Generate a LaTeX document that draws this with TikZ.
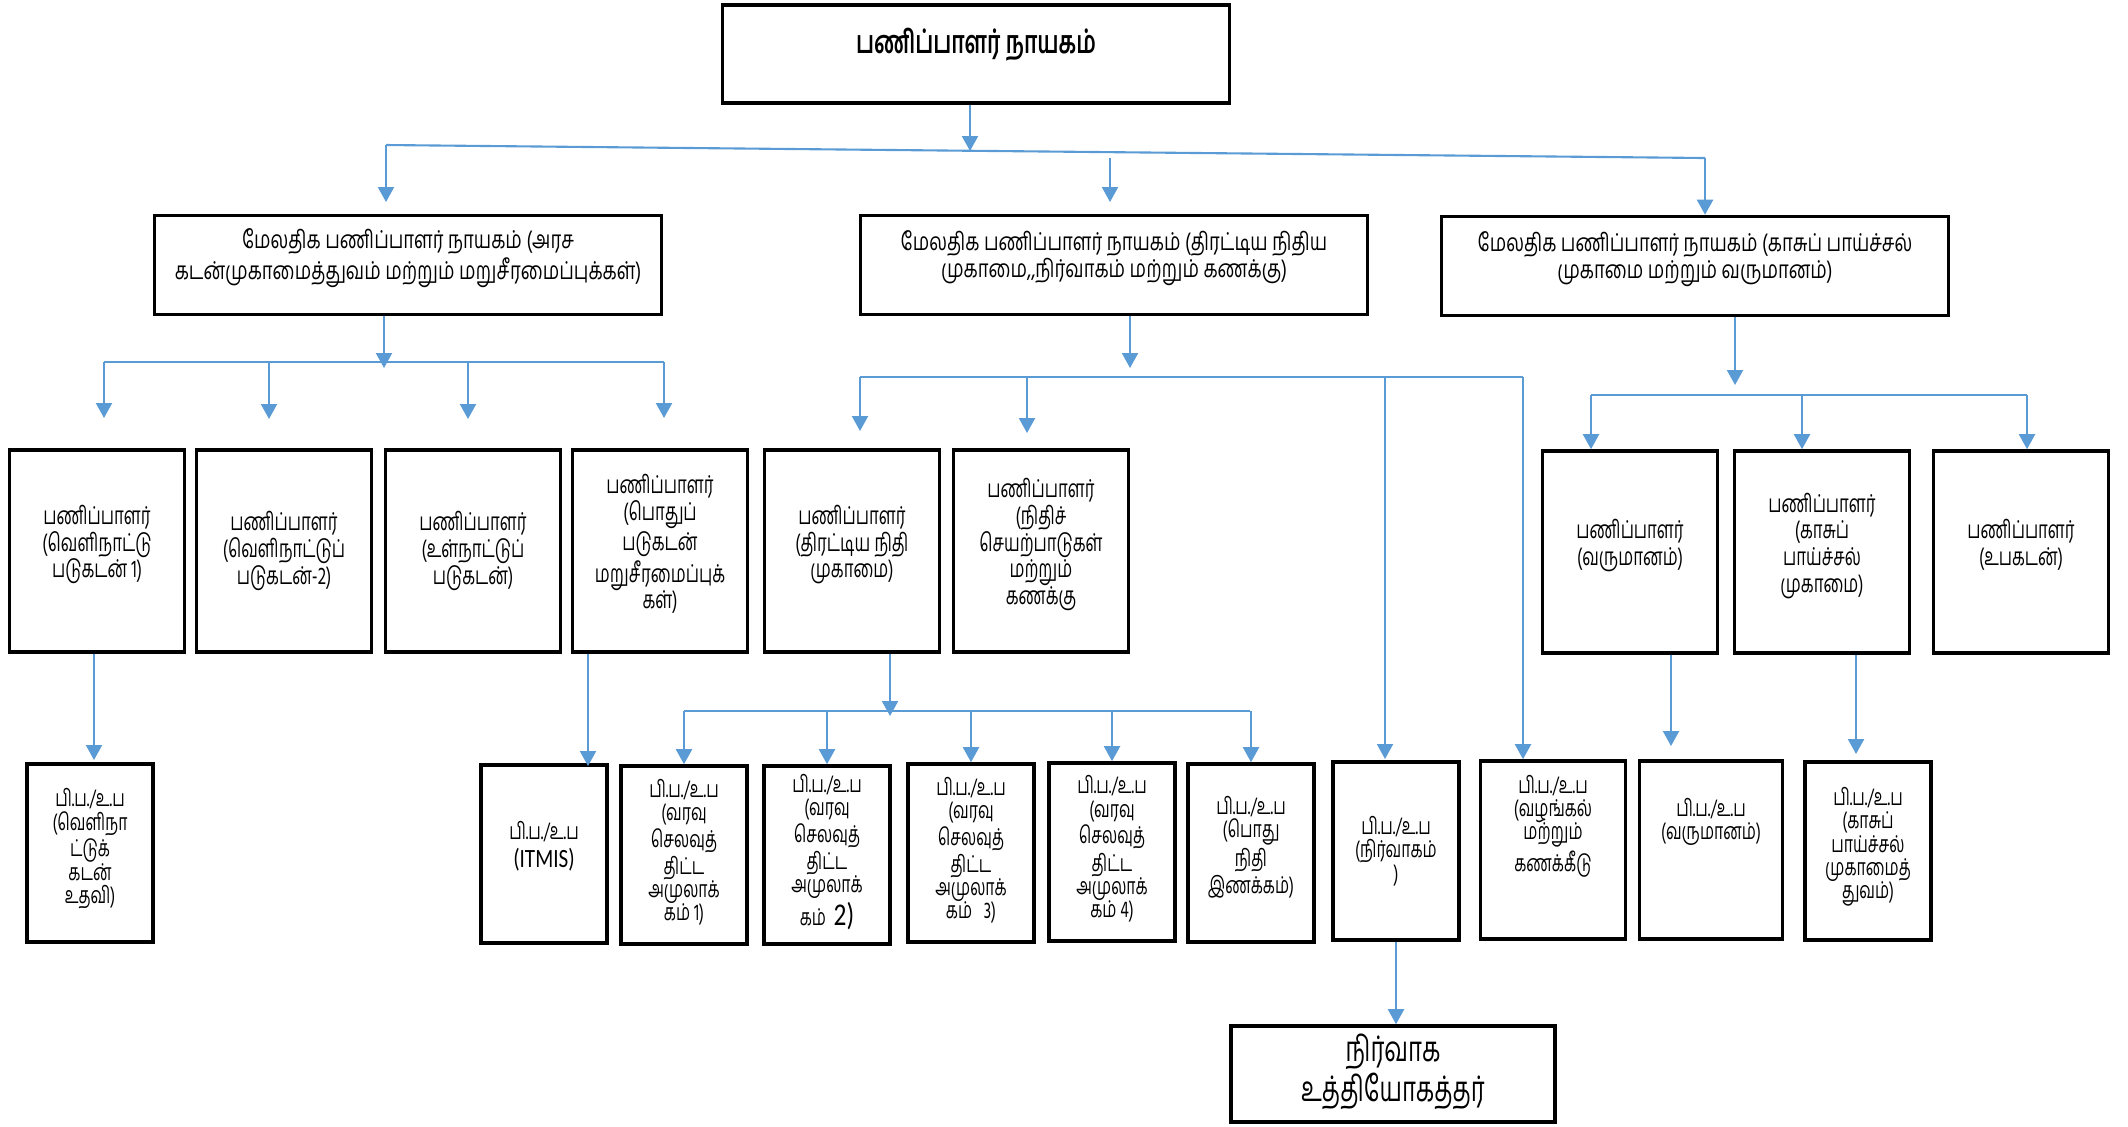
\documentclass[tikz,border=0pt]{standalone}
\usepackage{fontspec}
\newfontfamily\tamil[Script=Tamil,FakeStretch=0.68]{Hind Madurai}
\newfontfamily\tamilwide[Script=Tamil,FakeStretch=0.75]{Hind Madurai}
\newfontfamily\latin[FakeStretch=0.8]{Carlito}
\usetikzlibrary{arrows.meta}
\definecolor{linkblue}{HTML}{5B9BD5}

\begin{document}
\begin{tikzpicture}[x=0.01cm, y=-0.01cm,
  font=\tamil\fontsize{7}{7.6}\selectfont,
  box/.style={draw, line width=1pt, align=center, inner sep=1pt},
  lift/.style={execute at end node={\rule[-#1]{0pt}{#1}}},
  head/.style={box, minimum width=5.07cm, minimum height=0.98cm},
  adg/.style={box, minimum width=5.07cm, minimum height=0.99cm,
    font=\tamilwide\fontsize{7}{7.6}\selectfont},
  dir/.style={box, minimum width=1.75cm, minimum height=2.02cm},
  dd/.style={box, minimum width=1.26cm, minimum height=1.78cm,
    font=\tamil\fontsize{6.6}{6.6}\selectfont},
  link/.style={draw=linkblue, line width=0.6pt},
  arr/.style={link, -{Triangle[length=0.15cm, width=0.16cm]}}]
  \useasboundingbox (0,0) rectangle (2128,1126);

  \node[head, lift=0.27cm, font=\tamil\bfseries\fontsize{9}{10}\selectfont]
    (dg) at (976,54) {பணிப்பாளர் நாயகம்};

  \node[adg, lift=0.22cm] (adgA) at (408,265)
    {மேலதிக பணிப்பாளர் நாயகம் (அரச\\கடன்முகாமைத்துவம் மற்றும் மறுசீரமைப்புக்கள்)};
  \node[adg, lift=0.22cm] (adgB) at (1114,265)
    {மேலதிக பணிப்பாளர் நாயகம் (திரட்டிய நிதிய\\முகாமை,,நிர்வாகம் மற்றும் கணக்கு)};
  \node[adg, lift=0.22cm] (adgC) at (1695,266)
    {மேலதிக பணிப்பாளர் நாயகம் (காசுப் பாய்ச்சல்\\முகாமை மற்றும் வருமானம்)};

  \node[dir, lift=0.19cm] (d1) at (97,551)   {பணிப்பாளர்\\(வெளிநாட்டு\\படுகடன் 1)};
  \node[dir]              (d2) at (284,551)  {பணிப்பாளர்\\(வெளிநாட்டுப்\\படுகடன்-2)};
  \node[dir]              (d3) at (473,551)  {பணிப்பாளர்\\(உள்நாட்டுப்\\படுகடன்)};
  \node[dir, lift=0.19cm] (d4) at (660,551)  {பணிப்பாளர்\\(பொதுப்\\படுகடன்\\மறுசீரமைப்புக்\\கள்)};
  \node[dir, lift=0.19cm] (d5) at (852,551)  {பணிப்பாளர்\\(திரட்டிய நிதி\\முகாமை)};
  \node[dir, lift=0.19cm] (d6) at (1041,551) {பணிப்பாளர்\\(நிதிச்\\செயற்பாடுகள்\\மற்றும்\\கணக்கு};
  \node[dir, lift=0.19cm] (d7) at (1630,552) {பணிப்பாளர்\\(வருமானம்)};
  \node[dir, lift=0.19cm] (d8) at (1822,552) {பணிப்பாளர்\\(காசுப்\\பாய்ச்சல்\\முகாமை)};
  \node[dir, lift=0.19cm] (d9) at (2021,552) {பணிப்பாளர்\\(உபகடன்)};

  \node[dd, lift=0.14cm] (e1) at (90,853)  {பி.ப./உ.ப\\(வெளிநா\\ட்டுக்\\கடன்\\உதவி)};
  \node[dd, lift=0.19cm] (e2) at (544,854) {பி.ப./உ.ப\\[1.5pt]{\latin\fontsize{7.5}{7}\selectfont (ITMIS)}};
  \node[dd, lift=0.10cm] (e3) at (684,855) {பி.ப./உ.ப\\(வரவு\\செலவுத்\\திட்ட\\அமுலாக்\\கம் 1)};
  \node[dd, lift=0.10cm] (e4) at (827,855) {பி.ப./உ.ப\\(வரவு\\செலவுத்\\திட்ட\\அமுலாக்\\கம்~~{\latin\fontsize{9}{6.6}\selectfont 2)}};
  \node[dd, lift=0.10cm] (e5) at (971,853) {பி.ப./உ.ப\\(வரவு\\செலவுத்\\திட்ட\\அமுலாக்\\கம்~~~3)};
  \node[dd, lift=0.11cm] (e6) at (1112,852) {பி.ப./உ.ப\\(வரவு\\செலவுத்\\திட்ட\\அமுலாக்\\கம் 4)};
  \node[dd, lift=0.16cm] (e7) at (1251,853) {பி.ப./உ.ப\\(பொது\\நிதி\\இணக்கம்)};
  \node[dd]              (e8) at (1396,851) {பி.ப./உ.ப\\(நிர்வாகம்\\)};
  \node[dd, lift=0.54cm, minimum width=1.45cm] (e9) at (1553,850) {பி.ப./உ.ப\\(வழங்கல்\\மற்றும்\\கணக்கீடு};
  \node[dd, lift=0.63cm, minimum width=1.43cm] (e10) at (1711,850) {பி.ப./உ.ப\\(வருமானம்)};
  \node[dd, lift=0.16cm] (e11) at (1868,851) {பி.ப./உ.ப\\(காசுப்\\பாய்ச்சல்\\முகாமைத்\\துவம்)};

  \node[box, lift=0.12cm, minimum width=3.24cm, minimum height=0.96cm,
    font=\tamil\fontsize{10}{9.4}\selectfont] (officer) at (1393,1074) {நிர்வாக\\உத்தியோகத்தர்};

  % director general to the three additional DGs
  \coordinate (jTop) at (970,151);
  \coordinate (busL) at (386,145);
  \coordinate (busR) at (1705,158);
  \coordinate (sB) at (1110,158);
  \coordinate (tA) at (386,202);
  \coordinate (tB) at (1110,202);
  \draw[arr] (jTop |- dg.south) -- (jTop);
  \draw[link] (busL) -- (busR);
  \draw[arr] (busL) -- (tA);
  \draw[arr] (sB) -- (tB);
  \draw[arr] (busR) -- (busR |- adgC.north);

  % debt branch
  \coordinate (jA) at (384,368);
  \coordinate (busA) at (104,362);
  \coordinate (busA2) at (664,362);
  \coordinate (a1) at (104,418);
  \coordinate (a2) at (269,419);
  \coordinate (a3) at (468,419);
  \coordinate (a4) at (664,418);
  \draw[arr] (jA |- adgA.south) -- (jA);
  \draw[link] (busA) -- (busA2);
  \foreach \t in {a1,a2,a3,a4}
    \draw[arr] (\t |- busA) -- (\t);

  % consolidated fund branch
  \coordinate (jB) at (1130,368);
  \coordinate (busB) at (860,377);
  \coordinate (busB2) at (1523,377);
  \coordinate (b1) at (860,431);
  \coordinate (b2) at (1027,433);
  \coordinate (b3) at (1385,759);
  \draw[arr] (jB |- adgB.south) -- (jB);
  \draw[link] (busB) -- (busB2);
  \foreach \t in {b1,b2,b3}
    \draw[arr] (\t |- busB) -- (\t);
  \draw[arr] (busB2) -- (busB2 |- e9.north);

  % cash flow branch
  \coordinate (jC) at (1735,385);
  \coordinate (busC) at (1591,395);
  \coordinate (busC2) at (2027,395);
  \coordinate (c2) at (1802,395);
  \draw[arr] (jC |- adgC.south) -- (jC);
  \draw[link] (busC) -- (busC2);
  \foreach \t/\n in {busC/d7, c2/d8, busC2/d9}
    \draw[arr] (\t) -- (\t |- \n.north);

  % directors to deputy directors
  \coordinate (f1) at (94,760);
  \coordinate (f2) at (588,766);
  \draw[arr] (f1 |- d1.south) -- (f1);
  \draw[arr] (f2 |- d4.south) -- (f2);
  \coordinate (jD) at (890,716);
  \coordinate (busD) at (684,711);
  \coordinate (busD2) at (1250,711);
  \draw[arr] (jD |- d5.south) -- (jD);
  \draw[link] (busD) -- (busD2);
  \foreach \n in {e3,e4,e5,e6,e7}
    \draw[arr] (\n.north |- busD) -- (\n.north);
  \coordinate (g1) at (1671,746);
  \coordinate (g2) at (1856,754);
  \draw[arr] (g1 |- d7.south) -- (g1);
  \draw[arr] (g2 |- d8.south) -- (g2);
  \draw[arr] (e8.south) -- (e8.south |- officer.north);
\end{tikzpicture}
\end{document}
